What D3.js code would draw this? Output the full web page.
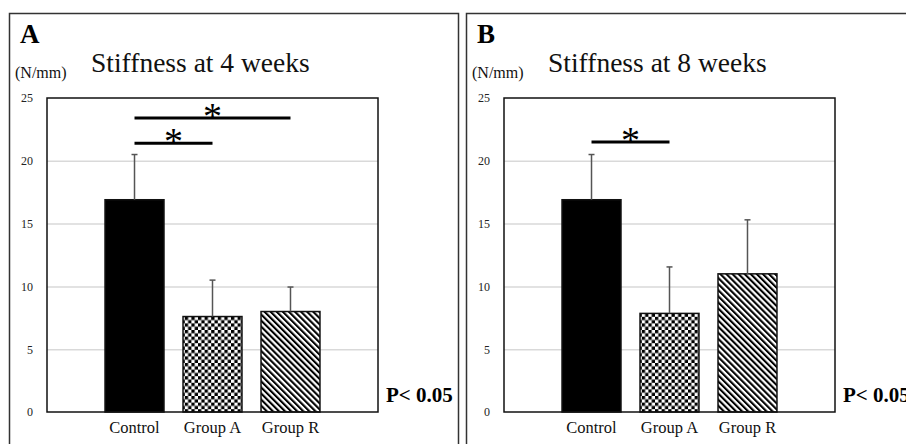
<!DOCTYPE html>
<html><head><meta charset="utf-8">
<script src="https://cdn.jsdelivr.net/npm/d3@7"></script>
<style>
html,body{margin:0;padding:0;background:#fff;}
svg{display:block;font-family:"Liberation Serif","Times New Roman",serif;}
</style></head>
<body>
<svg id="chart" width="906" height="444"></svg>
<script>
// ---- data ----
const categories = ["Control", "Group A", "Group R"];
const week4Means = [16.9, 7.6, 8.0];
const week4Err = [3.6, 2.9, 1.95];
const week8Means = [16.9, 7.85, 11.0];
const week8Err = [3.6, 3.7, 4.3];
const yTicks = [0, 5, 10, 15, 20, 25];
const panelLetters = ["A", "B"];
const panelTitles = ["Stiffness at 4 weeks", "Stiffness at 8 weeks"];
const unitLabel = "(N/mm)";
const pLabel = "P< 0.05";
// significance brackets: [from category, to category, height in N/mm]
const week4Sig = [["Control", "Group R", 23.4], ["Control", "Group A", 21.4]];
const week8Sig = [["Control", "Group A", 21.5]];

const svg = d3.select("#chart");
const defs = svg.append("defs");
// checkerboard
const chk = defs.append("pattern").attr("id", "checker").attr("patternUnits", "userSpaceOnUse")
  .attr("width", 6.6).attr("height", 6.6);
chk.append("rect").attr("width", 6.6).attr("height", 6.6).attr("fill", "#fff");
chk.append("rect").attr("width", 3.3).attr("height", 3.3).attr("fill", "#000");
chk.append("rect").attr("x", 3.3).attr("y", 3.3).attr("width", 3.3).attr("height", 3.3).attr("fill", "#000");
// diagonal hatch
const hat = defs.append("pattern").attr("id", "hatch").attr("patternUnits", "userSpaceOnUse")
  .attr("width", 4.3).attr("height", 4.3).attr("patternTransform", "rotate(-45)");
hat.append("rect").attr("width", 4.3).attr("height", 4.3).attr("fill", "#fff");
hat.append("rect").attr("width", 2.1).attr("height", 4.3).attr("fill", "#000");

const fills = ["#000", "url(#checker)", "url(#hatch)"];

function drawPanel(i, dx, means, errs, sigs) {
  const g = svg.append("g").attr("transform", `translate(${dx},0)`);
  g.append("rect").attr("x", 9.5).attr("y", 13.5).attr("width", 449).attr("height", 500)
    .attr("fill", "none").attr("stroke", "#333").attr("stroke-width", 1.5);

  const left = 47, right = 378, top = 98, bottom = 412;
  const x = d3.scaleBand().domain(categories).range([left, right]).paddingInner(0.244).paddingOuter(0.744);
  const y = d3.scaleLinear().domain([0, 25]).range([bottom, top]);

  // gridlines
  g.append("g").attr("transform", `translate(${left},0)`)
    .call(d3.axisLeft(y).tickValues(yTicks.filter(t => t > 0 && t < 25)).tickSize(-(right - left)).tickFormat(""))
    .call(s => s.select(".domain").remove())
    .call(s => s.selectAll("line").attr("stroke", "#d9d9d9").attr("stroke-width", 1.5));

  // tick labels
  g.append("g").attr("transform", `translate(${left},0)`)
    .call(d3.axisLeft(y).tickValues(yTicks).tickSize(0).tickPadding(14))
    .attr("font-family", "'Liberation Serif', 'Times New Roman', serif").attr("font-size", 12)
    .call(s => s.select(".domain").remove())
    .call(s => s.selectAll("text").attr("fill", "#222"));

  // bars
  g.selectAll(".bar").data(categories).enter().append("rect")
    .attr("x", d => x(d)).attr("width", x.bandwidth())
    .attr("y", (d, j) => y(means[j])).attr("height", (d, j) => y(0) - y(means[j]))
    .attr("fill", (d, j) => fills[j]).attr("stroke", "#111").attr("stroke-width", 1.5);

  // error bars
  categories.forEach((c, j) => {
    const cx = x(c) + x.bandwidth() / 2;
    g.append("line").attr("x1", cx).attr("x2", cx).attr("y1", y(means[j])).attr("y2", y(means[j] + errs[j]))
      .attr("stroke", "#555").attr("stroke-width", 1.5);
    g.append("line").attr("x1", cx - 3).attr("x2", cx + 3).attr("y1", y(means[j] + errs[j])).attr("y2", y(means[j] + errs[j]))
      .attr("stroke", "#555").attr("stroke-width", 1.5);
  });

  // plot frame
  g.append("rect").attr("x", left).attr("y", top).attr("width", right - left).attr("height", bottom - top)
    .attr("fill", "none").attr("stroke", "#111").attr("stroke-width", 1.5);

  // category labels
  g.selectAll(".cat").data(categories).enter().append("text")
    .attr("x", d => x(d) + x.bandwidth() / 2).attr("y", 433).attr("text-anchor", "middle")
    .attr("font-size", 16.5).attr("fill", "#111").text(d => d);

  // significance
  sigs.forEach(([a, b, h]) => {
    const x1 = x(a) + x.bandwidth() / 2, x2 = x(b) + x.bandwidth() / 2;
    g.append("line").attr("x1", x1).attr("x2", x2).attr("y1", y(h)).attr("y2", y(h))
      .attr("stroke", "#000").attr("stroke-width", 3);
    g.append("text").attr("x", (x1 + x2) / 2).attr("y", y(h) + 11).attr("text-anchor", "middle")
      .attr("font-size", 38).attr("fill", "#000").text("*");
  });

  g.append("text").attr("x", 20).attr("y", 43).attr("font-size", 27).attr("font-weight", "bold").attr("fill", "#000").text(panelLetters[i]);
  g.append("text").attr("x", 91).attr("y", 72).attr("font-size", 27.5).attr("fill", "#111").text(panelTitles[i]);
  g.append("text").attr("x", 15).attr("y", 78).attr("font-size", 16).attr("fill", "#111").text(unitLabel);
  g.append("text").attr("x", 386).attr("y", 402).attr("font-size", 21).attr("font-weight", "bold").attr("fill", "#000").text(pLabel);
}

drawPanel(0, 0, week4Means, week4Err, week4Sig);
drawPanel(1, 457, week8Means, week8Err, week8Sig);
</script>
</body></html>
